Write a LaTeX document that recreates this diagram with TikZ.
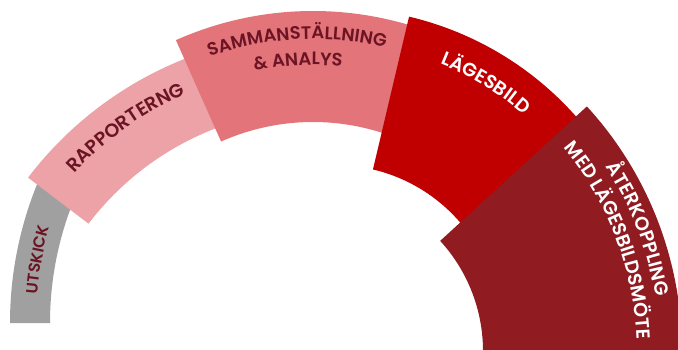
\documentclass[tikz,border=0pt]{standalone}
\usepackage{fontspec}
\setmainfont{Poppins}[BoldFont={Poppins SemiBold}]
\usetikzlibrary{decorations.text}
\definecolor{utskickgray}{HTML}{A0A0A0}
\definecolor{rapportpink}{HTML}{ECA2A7}
\definecolor{sammanrose}{HTML}{E2747A}
\definecolor{lagered}{HTML}{C00000}
\definecolor{aterdark}{HTML}{901C22}
\definecolor{labeldark}{HTML}{6B1423}

\begin{document}
\begin{tikzpicture}[x=1pt,y=1pt,
    curved/.style={decorate,decoration={text along path,text align=center,text={#1}}}]
  \clip (0,0) rectangle (678,349);
  \coordinate (c_utskick) at (379,26);
  \coordinate (c_rapport) at (320,-51);
  \coordinate (c_samman) at (313,1);
  \coordinate (c_lage) at (335,19);
  \coordinate (c_ater) at (320,-2);
  % segments, back to front
  \fill[utskickgray] (c_utskick) ++(180:369) arc[start angle=180,end angle=155,radius=369]
    -- ++(155:-40) arc[start angle=155,end angle=180,radius=329] -- cycle;
  \fill[rapportpink] (c_rapport) ++(142.7:367) arc[start angle=142.7,end angle=108,radius=367]
    -- ++(108:-76) arc[start angle=108,end angle=142.7,radius=291] -- cycle;
  \fill[sammanrose] (c_samman) ++(114:337) arc[start angle=114,end angle=70,radius=337]
    -- ++(70:-111) arc[start angle=70,end angle=114,radius=226] -- cycle;
  \fill[lagered] (c_lage) ++(76.7:322) arc[start angle=76.7,end angle=35,radius=322]
    -- ++(35:-157) arc[start angle=35,end angle=76.7,radius=165] -- cycle;
  \fill[aterdark] (c_ater) ++(42.5:362) arc[start angle=42.5,end angle=-10,radius=362]
    -- ++(-10:-199) arc[start angle=-10,end angle=42.5,radius=163] -- cycle;
  % labels
  \path[curved={|\fontsize{16}{16}\selectfont\bfseries\color{labeldark}|UTSKICK}]
    (c_utskick) ++(189.5:343) arc[start angle=189.5,end angle=149.5,radius=343];
  \path[curved={|\fontsize{19}{19}\selectfont\bfseries\color{labeldark}|RAPPORTERNG}]
    (c_rapport) ++(155.5:334) arc[start angle=155.5,end angle=95.5,radius=334];
  \path[curved={|\fontsize{18}{18}\selectfont\bfseries\color{labeldark}|SAMMANSTÄLLNING}]
    (c_samman) ++(133:309) arc[start angle=133,end angle=53,radius=309];
  \path[curved={|\fontsize{18}{18}\selectfont\bfseries\color{labeldark}|{\&} ANALYS}]
    (c_samman) ++(133:283) arc[start angle=133,end angle=53,radius=283];
  \path[curved={|\fontsize{19}{19}\selectfont\bfseries\color{white}|LÄGESBILD}]
    (c_lage) ++(88.6:286) arc[start angle=88.6,end angle=28.6,radius=286];
  \path[curved={|\fontsize{19}{19}\selectfont\bfseries\color{white}|ÅTERKOPPLING}]
    (c_ater) ++(51:340) arc[start angle=51,end angle=-9,radius=340];
  \path[curved={|\fontsize{19}{19}\selectfont\bfseries\color{white}|MED LÄGESBILDSMÖTE}]
    (c_ater) ++(51:317) arc[start angle=51,end angle=-9,radius=317];
\end{tikzpicture}
\end{document}
